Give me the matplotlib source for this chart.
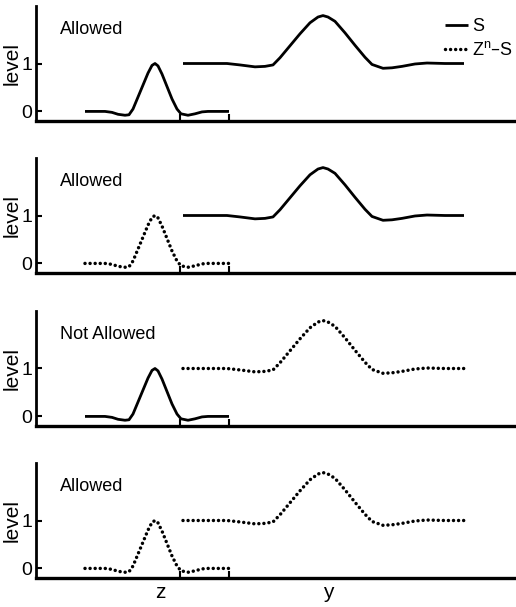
import matplotlib
matplotlib.use("Agg")
import matplotlib.pyplot as plt
from matplotlib.lines import Line2D

plt.rcParams['font.family'] = ['Liberation Sans', 'DejaVu Sans']

# z signal (x position, level)
z_x = [85, 95, 105, 112, 118, 125, 129, 133, 138, 143, 148, 152, 155, 158, 162, 167, 172, 177, 181, 188, 195, 202, 208, 229]
z_v = [0.0, 0.0, 0.0, -0.02, -0.06, -0.08, -0.07, 0.05, 0.3, 0.55, 0.8, 0.96, 1.0, 0.95, 0.78, 0.52, 0.26, 0.05, -0.05, -0.08, -0.05, -0.01, 0.0, 0.0]
# y signal (x position, level)
y_x = [183, 200, 227, 240, 255, 265, 273, 280, 290, 300, 310, 318, 323, 328, 335, 345, 355, 365, 372, 383, 392, 402, 415, 427, 445, 464]
y_v = [1.0, 1.0, 1.0, 0.97, 0.93, 0.94, 0.97, 1.12, 1.37, 1.62, 1.85, 1.97, 2.0, 1.97, 1.88, 1.64, 1.38, 1.13, 0.98, 0.9, 0.91, 0.94, 0.99, 1.01, 1.0, 1.0]

titles = ['Allowed', 'Allowed', 'Not Allowed', 'Allowed']
z_dotted = [False, True, False, True]
y_dotted = [False, False, True, True]
xtick_pos = [180, 229]
yticks = [0, 1]
axis_labels = [('z', 160), ('y', 328)]

W, H = 516, 607
fig = plt.figure(figsize=(W / 100, H / 100), dpi=100)

bottoms_px = [121, 273, 426, 578]
ax_h = 115
left_px = 36

solid_kw = dict(color='black', lw=2.0, solid_capstyle='butt')
dot_kw = dict(color='black', lw=2.5, linestyle=(0, (0.01, 1.45)), dash_capstyle='round')

axes = []
for i in range(4):
    ax = fig.add_axes([left_px / W, 1 - bottoms_px[i] / H, 1 - left_px / W, ax_h / H])
    axes.append(ax)
    ax.plot(z_x, z_v, **(dot_kw if z_dotted[i] else solid_kw))
    ax.plot(y_x, y_v, **(dot_kw if y_dotted[i] else solid_kw))
    ax.set_xlim(left_px, W)
    ax.set_ylim(-0.2, 2.2)
    for s in ['top', 'right']:
        ax.spines[s].set_visible(False)
    ax.spines['left'].set_linewidth(2.0)
    ax.spines['bottom'].set_linewidth(2.4)
    ax.set_yticks(yticks)
    ax.set_yticklabels([str(t) for t in yticks], fontsize=14)
    ax.set_xticks(xtick_pos)
    ax.set_xticklabels([])
    ax.tick_params(axis='y', direction='in', length=4, width=1.5, pad=2.5)
    ax.tick_params(axis='x', direction='in', length=5, width=1.5)
    ax.set_ylabel('level', fontsize=15, labelpad=0)
    ax.text(60, 1.62, titles[i], fontsize=13, va='baseline', ha='left')

handles = [Line2D([], [], **solid_kw), Line2D([], [], **dot_kw)]
axes[0].legend(handles, ['S', '$\\mathregular{Z^n}$–S'], loc='upper left',
               bbox_to_anchor=((445 - left_px) / (W - left_px), 1.0 - 12 / ax_h),
               frameon=False, fontsize=13, handlelength=1.3, handletextpad=0.2,
               labelspacing=0.35, borderaxespad=0, borderpad=0)

for lab, xp in axis_labels:
    fig.text(xp / W, 1 - 593 / H, lab, fontsize=15, ha='center', va='center')

fig.savefig('out.png', dpi=100)
